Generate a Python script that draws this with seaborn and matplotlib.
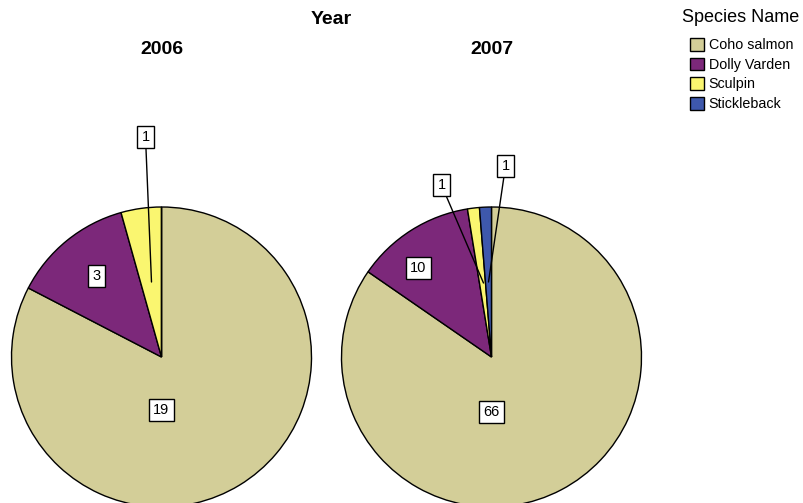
import matplotlib
matplotlib.use("Agg")
import matplotlib.pyplot as plt
import seaborn as sns
from matplotlib.patches import Patch

sns.set_style("white")
plt.rcParams['font.family'] = ['Liberation Sans', 'DejaVu Sans']
plt.rcParams['text.color'] = 'black'

# ---- data ----
species = ["Coho salmon", "Dolly Varden", "Sculpin", "Stickleback"]
colors = ["#D3CE98", "#7C287A", "#FAF670", "#3E58AC"]
years = ["2006", "2007"]
counts_2006 = [19, 3, 1, 0]
counts_2007 = [66, 10, 1, 1]
counts = {"2006": counts_2006, "2007": counts_2007}

W, H = 804, 503
fig = plt.figure(figsize=(W / 100, H / 100), dpi=100)
ax = fig.add_axes([0, 0, 1, 1])

R = 150
centers = {"2006": (161.5, 357), "2007": (491.5, 357)}  # pixel coords, y down

# label layout: (text offset from centre, arrow tip offset or None), y down
label_layout = {
    "2006": [((0, 53), None), ((-65, -81), None), ((-16, -220), (-10, -75)), None],
    "2007": [((0, 55), None), ((-73, -89), None), ((-50, -172), (-8, -74)), ((14, -191), (-3, -75))],
}

def up(y):
    return H - y

for yr in years:
    cx, cy = centers[yr]
    vals = counts[yr]
    ax.pie(vals, colors=colors, startangle=90, counterclock=False,
           center=(cx, up(cy)), radius=R,
           wedgeprops=dict(edgecolor="black", linewidth=1.0))
    for v, lay in zip(vals, label_layout[yr]):
        if lay is None or v == 0:
            continue
        (dx, dy), tip = lay
        bbox = dict(boxstyle="square,pad=0.3", fc="white", ec="black", lw=1.0)
        if tip is None:
            ax.text(cx + dx, up(cy + dy), str(v), ha="center", va="center",
                    fontsize=10.5, color="black", bbox=bbox, zorder=5)
        else:
            ax.annotate(str(v), xy=(cx + tip[0], up(cy + tip[1])),
                        xytext=(cx + dx, up(cy + dy)), ha="center", va="center",
                        fontsize=10.5, color="black", bbox=bbox, zorder=5,
                        arrowprops=dict(arrowstyle="-", color="black", lw=1.0,
                                        shrinkA=0, shrinkB=0))
    fig.text(cx / W, 1 - 50 / H, yr, ha="center", va="center",
             fontsize=14, fontweight="bold", color="black")

ax.set_xlim(0, W)
ax.set_ylim(0, H)
ax.set_aspect("equal")
ax.axis("off")

fig.text(331 / W, 1 - 20 / H, "Year", ha="center", va="center",
         fontsize=14, fontweight="bold", color="black")
fig.text(741 / W, 1 - 18 / H, "Species Name", ha="center", va="center",
         fontsize=13, color="black")

handles = [Patch(facecolor=c, edgecolor="black", lw=1.0, label=s)
           for s, c in zip(species, colors)]
leg = fig.legend(handles=handles, loc="upper left",
                 bbox_to_anchor=(690 / W, 1 - 38 / H), frameon=False,
                 fontsize=10.3, handlelength=0.95, handleheight=1.0,
                 handletextpad=0.35, labelspacing=0.37, borderpad=0,
                 borderaxespad=0)
for t in leg.get_texts():
    t.set_color("black")

fig.savefig("out.png", dpi=100)
